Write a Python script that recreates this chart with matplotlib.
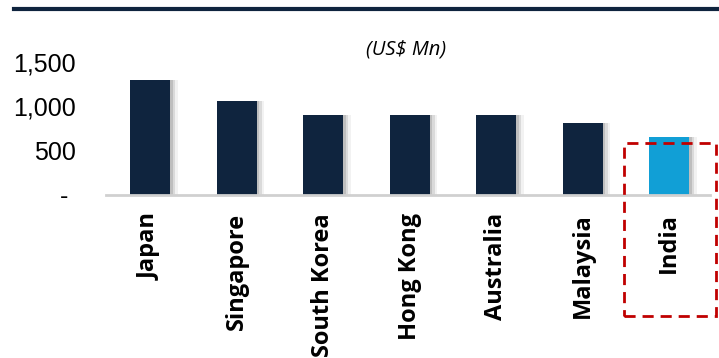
import matplotlib.pyplot as plt
from matplotlib.patches import Rectangle
from matplotlib.lines import Line2D
from matplotlib.transforms import blended_transform_factory

# ── Data ────────────────────────────────────────────────────────────
countries = ['Japan', 'Singapore', 'South Korea', 'Hong Kong',
             'Australia', 'Malaysia', 'India']
values = [1300, 1060, 900, 900, 900, 810, 650]
bar_colors = ['#0f243e'] * 6 + ['#119fd6']
yticks = [0, 500, 1000, 1500]
ytick_labels = ['- ', '500', '1,000', '1,500']

# ── Figure ──────────────────────────────────────────────────────────
fig = plt.figure(figsize=(7.19, 3.58), dpi=100)
ax = fig.add_axes([106 / 719, 1 - 195 / 358, (710 - 106) / 719, (195 - 62) / 358])

x = list(range(len(countries)))

# soft shadow to the right of each bar
for off, a in [(0.03, 0.3), (0.06, 0.2), (0.09, 0.1)]:
    ax.bar([i + off for i in x], values, width=0.46, color='gray',
           alpha=a, linewidth=0, zorder=1, clip_on=False)
ax.bar(x, values, width=0.46, color=bar_colors, linewidth=0, zorder=2,
       clip_on=False)

ax.set_xlim(-0.51, 6.47)
ax.set_ylim(0, 1500)

for s in ['top', 'right', 'left']:
    ax.spines[s].set_visible(False)
ax.spines['bottom'].set_color('#d0d0d0')
ax.spines['bottom'].set_linewidth(2)
ax.spines['bottom'].set_zorder(3)

ax.set_yticks(yticks)
ax.set_yticklabels(ytick_labels, fontsize=18, family='Liberation Sans')
ax.tick_params(axis='y', length=0, pad=22)
ax.set_xticks(x)
ax.set_xticklabels(countries, rotation=90, fontsize=17, fontweight='bold',
                   family='Open Sans', va='top', ha='center')
ax.tick_params(axis='x', length=0, pad=13)

# unit note
fig.text(406 / 719, 1 - 50 / 358, '(US$ Mn)', ha='center', va='center',
         fontsize=14.5, style='italic', family='Open Sans')

# top rule
fig.add_artist(Line2D([14 / 719, 1], [1 - 9 / 358, 1 - 9 / 358],
                      color='#0f243e', linewidth=3))

# dashed highlight around India
trans = blended_transform_factory(ax.transData, fig.transFigure)
box = Rectangle((6 - 0.52, 1 - 316 / 358), 1.06, (316 - 143) / 358,
                transform=trans, fill=False, edgecolor='#c00000',
                linewidth=2, linestyle=(0, (4, 2.5)), clip_on=False, zorder=4)
fig.add_artist(box)

fig.savefig('out.png', dpi=100)
